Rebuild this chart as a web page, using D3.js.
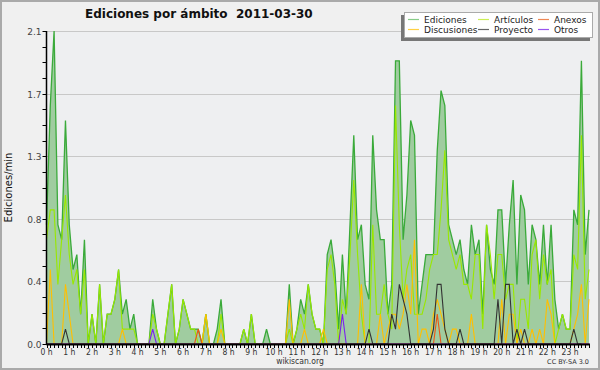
<!DOCTYPE html>
<html><head><meta charset="utf-8">
<script src="https://cdn.jsdelivr.net/npm/d3@7"></script>
<style>
html,body{margin:0;padding:0;background:#f0f0f0;}
svg{display:block;}
text{font-family:"DejaVu Sans",sans-serif;}
</style></head>
<body>
<svg id="c" width="600" height="370"></svg>
<script>
// counts per 10-minute slot (edits/min = count/10)
const slots = d3.range(144);
const hourLabels = d3.range(24).map(h => h + " h");
const yTicks = [0, 0.42, 0.84, 1.26, 1.68, 2.1];
const ediciones = [8,16,21,8,7,15,8,5,6,2,7,0,2,0,4,0,2,2,3,5,2,3,1,2,0,0,0,0,3,1,0,0,2,4,0,1,
  3,2,1,1,1,0,2,0,0,1,3,0,0,0,0,0,1,0,2,0,0,0,1,0,0,0,0,0,4,0,1,3,2,4,2,1,
  1,0,6,7,5,1,6,2,8,14,7,8,4,3,14,9,7,7,2,4,19,19,7,10,15,14,2,4,6,6,6,13,
  17,16,8,7,6,7,5,4,8,6,7,2,8,5,4,9,9,4,8,11,4,10,9,4,8,7,4,8,4,8,3,1,2,1,1,9,8,19,6,9];
const articulos = [7,9,9,4,7,10,6,4,5,2,5,0,2,0,4,0,2,2,3,5,1,1,1,1,0,0,0,0,2,1,0,0,2,4,0,1,
  3,2,1,1,0,0,2,0,0,0,2,0,0,0,0,0,1,0,2,0,0,0,0,0,0,0,0,0,1,0,1,2,1,4,2,1,
  1,0,5,6,4,0,3,2,6,11,6,2,0,0,8,2,2,4,2,1,16,8,3,5,6,2,2,2,3,5,6,6,
  9,13,7,6,5,6,4,4,3,6,6,1,8,6,3,6,6,3,4,4,0,3,3,1,6,7,3,6,4,5,0,1,2,1,1,6,5,14,3,5];
const discusiones = [0,5,0,0,0,4,2,0,0,0,0,0,0,0,0,0,0,0,0,0,1,0,0,0,0,0,0,0,0,0,0,0,0,0,0,0,
  0,0,0,0,0,0,2,0,0,0,1,0,0,0,0,0,0,0,0,0,0,0,0,0,0,0,0,0,3,0,0,0,1,0,0,0,
  0,1,0,0,0,0,0,0,0,0,0,4,0,0,0,0,2,0,1,2,2,1,2,4,2,7,0,1,1,0,2,3,
  2,1,0,1,1,0,0,0,2,0,0,0,0,0,0,0,3,0,2,2,0,1,0,0,1,0,1,0,3,2,0,0,0,0,0,1,2,4,0,3];
const proyecto = [0,0,0,0,0,1,0,0,0,0,0,0,0,0,0,0,0,0,0,0,0,0,0,0,0,0,0,0,0,0,0,0,0,0,0,0,
  0,0,0,0,0,0,0,0,0,0,0,0,0,0,0,0,0,0,0,0,0,0,0,0,0,0,0,0,0,0,0,0,0,0,0,0,
  0,0,0,0,0,0,0,0,0,0,0,0,0,1,0,0,0,0,0,2,1,4,3,2,0,0,0,0,0,0,1,4,
  4,1,0,0,0,1,0,0,0,0,0,0,0,0,0,3,0,4,4,0,1,0,1,0,0,0,0,0,0,0,0,0,0,0,0,1,0,0];
const anexos = slots.map(i => i === 40 ? 1 : i === 103 ? 2 : 0);
const otros = slots.map(i => i === 28 ? 1 : i === 78 ? 2 : 0);

const legendNames = ["Ediciones","Discusiones","Artículos","Proyecto","Anexos","Otros"];
const lineColors = {Ediciones:"#3aaa3a",Artículos:"#99e800",Discusiones:"#ffbf00",Proyecto:"#333333",Anexos:"#ee5511",Otros:"#7a22ee"};
const legendColors = {Ediciones:"#88cc88",Artículos:"#ccee55",Discusiones:"#ffd044",Proyecto:"#666666",Anexos:"#ee8855",Otros:"#9955ee"};

const svg = d3.select("#c");
const W = 600, H = 370;
const m = {l:46.5, r:589, t:31, b:344};
svg.append("rect").attr("x",1).attr("y",1).attr("width",W-2).attr("height",H-2)
  .attr("fill","#f0f0f0").attr("stroke","#aaaaaa").attr("stroke-width",2);
svg.append("rect").attr("x",m.l).attr("y",m.t).attr("width",m.r-m.l+1).attr("height",m.b-m.t)
  .attr("fill","#eeeff1");

const x = d3.scaleLinear().domain([0,143]).range([m.l, m.r]);
const y = d3.scaleLinear().domain([0,2.1]).range([m.b, m.t]);

// grid
svg.append("g").selectAll("line").data(yTicks.slice(1)).join("line")
  .attr("x1",m.l).attr("x2",m.r+1).attr("y1",d=>Math.round(y(d))+0.5).attr("y2",d=>Math.round(y(d))+0.5)
  .attr("stroke","#c8c8c8").attr("stroke-width",1);

// area + lines
const toPts = arr => arr.map((v,i)=>[i, v/10]);
const area = d3.area().x(d=>x(d[0])).y0(m.b).y1(d=>y(d[1]));
const line = d3.line().x(d=>x(d[0])).y(d=>y(d[1]));
svg.append("path").attr("d",area(toPts(ediciones))).attr("fill","#a0cca0");
svg.append("path").attr("d",line(toPts(ediciones))).attr("fill","none").attr("stroke",lineColors.Ediciones).attr("stroke-width",1.3);
[["Artículos",articulos],["Discusiones",discusiones],["Anexos",anexos],["Otros",otros],["Proyecto",proyecto]].forEach(([n,arr])=>{
  svg.append("path").attr("d",line(toPts(arr))).attr("fill","none").attr("stroke",lineColors[n]).attr("stroke-width",1.1);
});

// y axis
const yMinor = d3.range(0,21).map(k=>k*0.105);
const yg = svg.append("g");
yg.selectAll("line.mn").data(yMinor).join("line")
  .attr("x1",m.l-4).attr("x2",m.l).attr("y1",d=>Math.round(y(d))+0.5).attr("y2",d=>Math.round(y(d))+0.5)
  .attr("stroke","#000");
yg.selectAll("text").data(yTicks).join("text")
  .attr("x",m.l-5).attr("y",d=>Math.round(y(d))+3.5).attr("text-anchor","end")
  .attr("font-size","9px").attr("fill","#444").text(d=>d.toFixed(1));
yg.append("line").attr("x1",m.l).attr("x2",m.l).attr("y1",m.t).attr("y2",m.b+1).attr("stroke","#000").attr("stroke-width",1.5);

// x axis
const xg = svg.append("g");
xg.selectAll("line").data(slots).join("line")
  .attr("x1",d=>Math.round(x(d))+0.5).attr("x2",d=>Math.round(x(d))+0.5).attr("y1",m.b).attr("y2",m.b+4)
  .attr("stroke","#000");
xg.append("line").attr("x1",m.l).attr("x2",m.r+1).attr("y1",m.b+0.5).attr("y2",m.b+0.5).attr("stroke","#000").attr("stroke-width",2);
xg.selectAll("text").data(hourLabels).join("text")
  .attr("x",(d,i)=>x(i*6)).attr("y",m.b+11).attr("text-anchor","middle")
  .attr("font-family","'DejaVu Sans Condensed','DejaVu Sans',sans-serif").attr("font-stretch","condensed")
  .attr("font-size","8.5px").attr("fill","#333").text(d=>d);

// y title
svg.append("text").attr("transform",`translate(12,${(m.t+m.b)/2}) rotate(-90)`)
  .attr("text-anchor","middle").attr("font-family","DejaVu Sans Mono").attr("font-size","10px").attr("fill","#111")
  .text("Ediciones/min");

// title
svg.append("text").attr("x",85).attr("y",18).attr("font-size","12px").attr("font-weight","bold")
  .attr("fill","#111").style("white-space","pre").text("Ediciones por ámbito  2011-03-30");

// footer
svg.append("text").attr("x",300).attr("y",364).attr("text-anchor","middle")
  .attr("font-family","'DejaVu Sans Condensed','DejaVu Sans',sans-serif").attr("font-stretch","condensed")
  .attr("font-size","8.5px").attr("fill","#333").text("wikiscan.org");
svg.append("text").attr("x",589).attr("y",364).attr("text-anchor","end").attr("font-size","6.5px").attr("fill","#333").text("CC BY-SA 3.0");

// legend
const lg = svg.append("g");
lg.append("rect").attr("x",401).attr("y",15).attr("width",189).attr("height",26).attr("fill","#777");
lg.append("rect").attr("x",404.5).attr("y",12.5).attr("width",188).attr("height",25).attr("fill","#fff").attr("stroke","#aaa");
const cols = [408, 478, 538];
legendNames.forEach((n,k)=>{
  const c = Math.floor(k/2), r = k%2;
  const yy = 19 + r*10;
  lg.append("line").attr("x1",cols[c]).attr("x2",cols[c]+11).attr("y1",yy+0.5).attr("y2",yy+0.5)
    .attr("stroke",legendColors[n]).attr("stroke-width",1.2);
  lg.append("text").attr("x",cols[c]+16).attr("y",yy+3.5).attr("font-size","9px").attr("fill","#222").text(n);
});
</script>
</body></html>
